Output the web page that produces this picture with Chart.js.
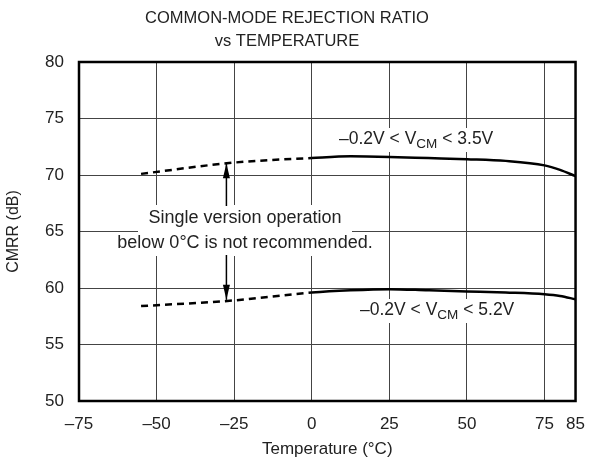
<!DOCTYPE html>
<html>
<head>
<meta charset="utf-8">
<script src="https://cdn.jsdelivr.net/npm/chart.js@4.4.1/dist/chart.umd.min.js"></script>
<style>
  html, body { margin: 0; padding: 0; background: #fff; }
  #wrap { width: 598px; height: 464px; position: relative; }
</style>
</head>
<body>
<div id="wrap"><canvas id="c" width="598" height="464"></canvas></div>
<script>
'use strict';

// data (°C vs dB)
const tempUpper = [-55, -25, 0, 12.5, 25, 37.5, 50, 62.5, 75, 80, 85];
const cmrrUpper = [70.1, 71.1, 71.5, 71.65, 71.6, 71.5, 71.4, 71.25, 70.85, 70.45, 69.9];
const tempLower = [-55, -25, 0, 12.5, 25, 37.5, 50, 62.5, 75, 80, 85];
const cmrrLower = [58.4, 58.9, 59.6, 59.8, 59.9, 59.8, 59.7, 59.6, 59.45, 59.3, 59.0];
const xTicks = [-75, -50, -25, 0, 25, 50, 75, 85];
const yTicks = [50, 55, 60, 65, 70, 75, 80];

const FONT = 'Liberation Sans, Arial, Helvetica, sans-serif';
const dashBelowZero = { borderDash: ctx => ctx.p1.parsed.x <= 0 ? [7, 5] : undefined };

function pts(xs, ys) { return xs.map((x, i) => ({ x: x, y: ys[i] })); }

// labels, note box, arrows, frame
const overlay = {
  id: 'overlay',
  afterDatasetsDraw(chart) {
    const { ctx, scales: { x, y } } = chart;
    ctx.save();

    // note with white backing
    const cx = 245;
    ctx.fillStyle = '#fff';
    ctx.fillRect(138, 205, 214, 51);
    ctx.fillStyle = '#222';
    ctx.font = '18px ' + FONT;
    ctx.textAlign = 'center';
    ctx.textBaseline = 'middle';
    ctx.fillText('Single version operation', cx, 218);
    ctx.fillText('below 0\u00B0C is not recommended.', cx, 243);

    // arrows
    const ax = x.getPixelForValue(-27.5);
    function arrow(y0, y1) {
      ctx.strokeStyle = '#000';
      ctx.fillStyle = '#000';
      ctx.lineWidth = 1.5;
      ctx.beginPath();
      ctx.moveTo(ax, y0);
      ctx.lineTo(ax, y1);
      ctx.stroke();
      const d = y1 > y0 ? 1 : -1;
      ctx.beginPath();
      ctx.moveTo(ax, y1);
      ctx.lineTo(ax - 3.5, y1 - d * 15);
      ctx.lineTo(ax + 3.5, y1 - d * 15);
      ctx.closePath();
      ctx.fill();
    }
    arrow(206, y.getPixelForValue(71.05));
    arrow(255, y.getPixelForValue(58.95));

    // V_CM labels with subscript
    function vcm(xl, yc, tail) {
      ctx.textAlign = 'left';
      ctx.textBaseline = 'middle';
      ctx.fillStyle = '#222';
      let px = xl;
      ctx.font = '17.5px ' + FONT;
      const pre = '\u20130.2V < V';
      ctx.fillText(pre, px, yc);
      px += ctx.measureText(pre).width;
      ctx.font = '13.5px ' + FONT;
      ctx.fillText('CM', px, yc + 5);
      px += ctx.measureText('CM').width;
      ctx.font = '17.5px ' + FONT;
      ctx.fillText(tail, px, yc);
    }
    function labelBg(xl, yc, w) {
      ctx.fillStyle = '#fff';
      ctx.fillRect(xl - 2, yc - 11, w + 4, 24);
    }
    labelBg(339, 139, 164);
    vcm(339, 139, ' < 3.5V');
    labelBg(360, 310, 166);
    vcm(360, 310, ' < 5.2V');

    ctx.restore();
  },
  afterDraw(chart) {
    const { ctx, chartArea: a } = chart;
    ctx.save();
    ctx.strokeStyle = '#000';
    ctx.lineWidth = 2.5;
    ctx.strokeRect(a.left, a.top, a.right - a.left, a.bottom - a.top);
    ctx.fillStyle = '#222';
    ctx.font = '16.5px ' + FONT;
    ctx.textAlign = 'center';
    ctx.textBaseline = 'middle';
    ctx.fillText('COMMON-MODE REJECTION RATIO', 287, 18);
    ctx.fillText('vs TEMPERATURE', 287, 41);
    ctx.restore();
  }
};

new Chart(document.getElementById('c'), {
  type: 'line',
  data: {
    datasets: [
      { data: pts(tempUpper, cmrrUpper), segment: dashBelowZero },
      { data: pts(tempLower, cmrrLower), segment: dashBelowZero }
    ]
  },
  options: {
    responsive: false,
    animation: false,
    layout: { padding: { top: 62, right: 20, bottom: 0, left: 0 } },
    elements: {
      line: { borderColor: '#000', borderWidth: 2.5, cubicInterpolationMode: 'monotone', fill: false },
      point: { radius: 0 }
    },
    plugins: { legend: { display: false }, tooltip: { enabled: false }, title: { display: false } },
    scales: {
      x: {
        type: 'linear',
        min: -75,
        max: 85,
        afterBuildTicks: s => { s.ticks = xTicks.map(v => ({ value: v })); },
        afterFit: s => { s.height = 63; },
        grid: { color: '#444', lineWidth: 1, drawTicks: false },
        border: { display: false },
        ticks: {
          color: '#222',
          padding: 13,
          maxRotation: 0,
          autoSkip: false,
          font: { family: FONT, size: 17 },
          callback: v => String(v).replace('-', '\u2013')
        },
        title: {
          display: true,
          text: 'Temperature (\u00B0C)',
          color: '#222',
          font: { family: FONT, size: 17 },
          padding: { top: 2 }
        }
      },
      y: {
        min: 50,
        max: 80,
        afterBuildTicks: s => { s.ticks = yTicks.map(v => ({ value: v })); },
        afterFit: s => { s.width = 79; },
        grid: { color: '#444', lineWidth: 1, drawTicks: false },
        border: { display: false },
        ticks: {
          color: '#222',
          padding: 15,
          font: { family: FONT, size: 17 }
        },
        title: {
          display: true,
          text: 'CMRR (dB)',
          color: '#222',
          font: { family: FONT, size: 16 },
          padding: { bottom: 0 }
        }
      }
    }
  },
  plugins: [overlay]
});
</script>
</body>
</html>
